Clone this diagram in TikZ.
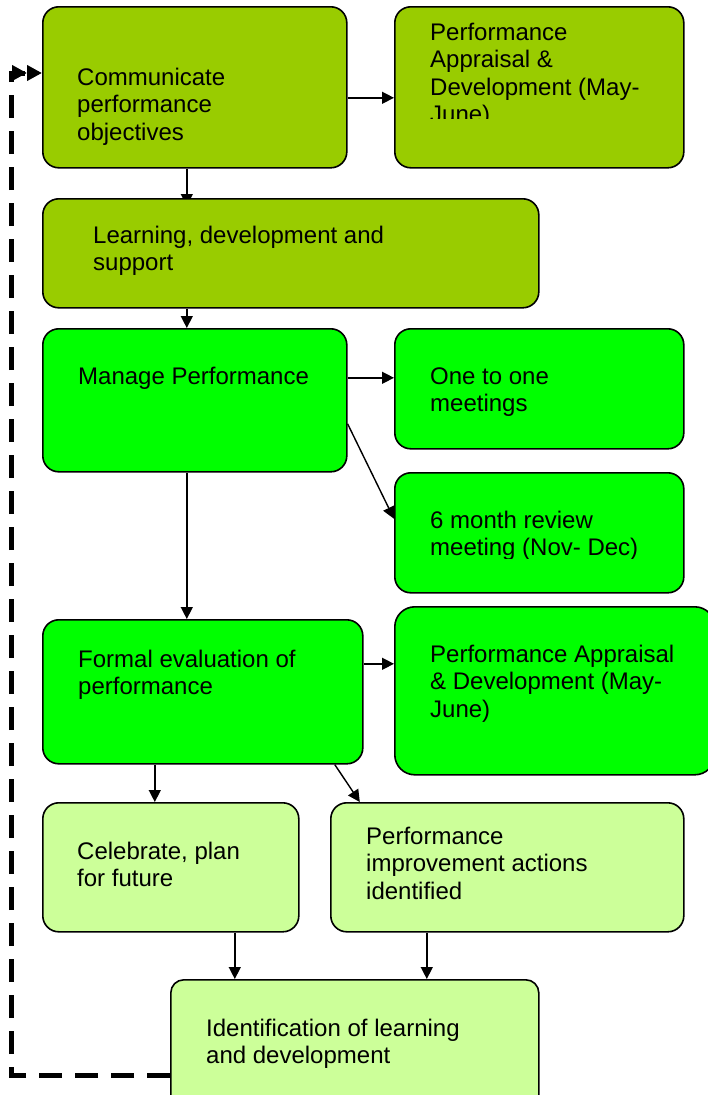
\documentclass[tikz,border=0pt]{standalone}
\usepackage{fontspec}
\setmainfont{Liberation Sans}
\usetikzlibrary{arrows.meta}
\usetikzlibrary{backgrounds}
\definecolor{olivegreen}{HTML}{99CC00}
\definecolor{brightgreen}{HTML}{00FF00}
\definecolor{palegreen}{HTML}{CCFF99}
\tikzset{
  box/.style={draw, line width=1.6pt, rounded corners=16pt, anchor=north west, inner sep=0pt},
  txt/.style={anchor=base west, align=left, inner sep=0pt, font=\fontsize{24}{27.5}\selectfont},
  arr/.style={line width=1.4pt, -{Triangle[length=12pt,width=12pt]}},
  loop/.style={line width=5pt, dash pattern=on 23pt off 13pt, -{Triangle[length=15pt,width=15pt]Triangle[length=15pt,width=15pt]}}
}

\begin{document}
\begin{tikzpicture}[x=1pt,y=-1pt]
\useasboundingbox (0,0) rectangle (708,1095);
\node[box, fill=olivegreen, minimum width=304pt, minimum height=161pt] (comm) at (42,6) {};
\node[box, fill=olivegreen, minimum width=289pt, minimum height=161pt] (pa1) at (394,6) {};
\node[box, fill=olivegreen, minimum width=496pt, minimum height=109pt] (learn) at (42,198) {};
\node[box, fill=brightgreen, minimum width=304pt, minimum height=143pt] (manage) at (42,328) {};
\node[box, fill=brightgreen, minimum width=289pt, minimum height=120pt] (one) at (394,328) {};
\node[box, fill=brightgreen, minimum width=289pt, minimum height=120pt] (six) at (394,472) {};
\node[box, fill=brightgreen, minimum width=320pt, minimum height=144pt] (formal) at (42,619) {};
\node[box, fill=brightgreen, minimum width=320pt, minimum height=168pt, rounded corners=20pt] (pa2) at (394,606) {};
\node[box, fill=palegreen, minimum width=256pt, minimum height=129pt] (celeb) at (42,802) {};
\node[box, fill=palegreen, minimum width=353pt, minimum height=129pt] (improve) at (330,802) {};
\node[box, fill=palegreen, minimum width=368pt, minimum height=130pt, rounded corners=13pt] (ident) at (170,979) {};

\node[txt] (comm-t) at (77,140) {Communicate\\performance\\objectives};
\begin{scope}
\clip (394,6) rectangle (683,118);
\node[txt] (pa1-t) at (430,122.5) {Performance\\Appraisal \&\\Development (May-\\June)};
\end{scope}
\node[txt] (learn-t) at (93,270.5) {Learning, development and\\support};
\node[txt] (manage-t) at (78,384) {Manage Performance};
\node[txt] (one-t) at (430,411.5) {One to one\\meetings};
\begin{scope}
\clip (394,472) rectangle (683,558);
\node[txt] (six-t) at (430,555.5) {6 month review\\meeting (Nov- Dec)};
\end{scope}
\node[txt] (formal-t) at (78,694.5) {Formal evaluation of\\performance};
\node[txt] (pa2-t) at (430,717) {Performance Appraisal\\\& Development (May-\\June)};
\node[txt] (celeb-t) at (77,886.5) {Celebrate, plan\\for future};
\node[txt] (improve-t) at (366,899) {Performance\\improvement actions\\identified};
\node[txt] (ident-t) at (206,1063.5) {Identification of learning\\and development};

\begin{scope}[on background layer]
\draw[arr, shorten >=-8pt] ([xshift=-8pt]comm.south) -- ([xshift=-8pt]comm.south |- learn.north);
\end{scope}
\draw[arr] ([yshift=-10.5pt]comm.east) -- ([yshift=-10.5pt]comm.east -| pa1.west);
\draw[arr] ([xshift=-8pt]manage.north |- learn.south) -- ([xshift=-8pt]manage.north);
\draw[arr] ([yshift=22.5pt]manage.east) -- ([yshift=22.5pt]manage.east -| one.west);
\draw[arr] ([yshift=-23.5pt]manage.east) -- ([yshift=14pt]six.west);
\draw[arr] ([xshift=-8pt]manage.south) -- ([xshift=-8pt]manage.south |- formal.north);
\draw[arr] ([yshift=28pt]formal.east) -- ([yshift=28pt]formal.east -| pa2.west);
\draw[arr] ([xshift=-48pt]formal.south) -- ([xshift=-48pt]formal.south |- celeb.north);
\draw[arr] ([xshift=132pt]formal.south) -- ([xshift=-147.5pt]improve.north);
\draw[arr] ([xshift=64pt]celeb.south) -- ([xshift=64pt]celeb.south |- ident.north);
\draw[arr] ([xshift=-80.5pt]improve.south) -- ([xshift=-80.5pt]improve.south |- ident.north);

\coordinate (loop-bl) at (11,1075);
\coordinate (loop-tl) at (11,73);
\draw[loop] (ident.west |- loop-bl) -- (loop-bl) -- (loop-tl) -- (comm.west |- loop-tl);
\end{tikzpicture}
\end{document}
